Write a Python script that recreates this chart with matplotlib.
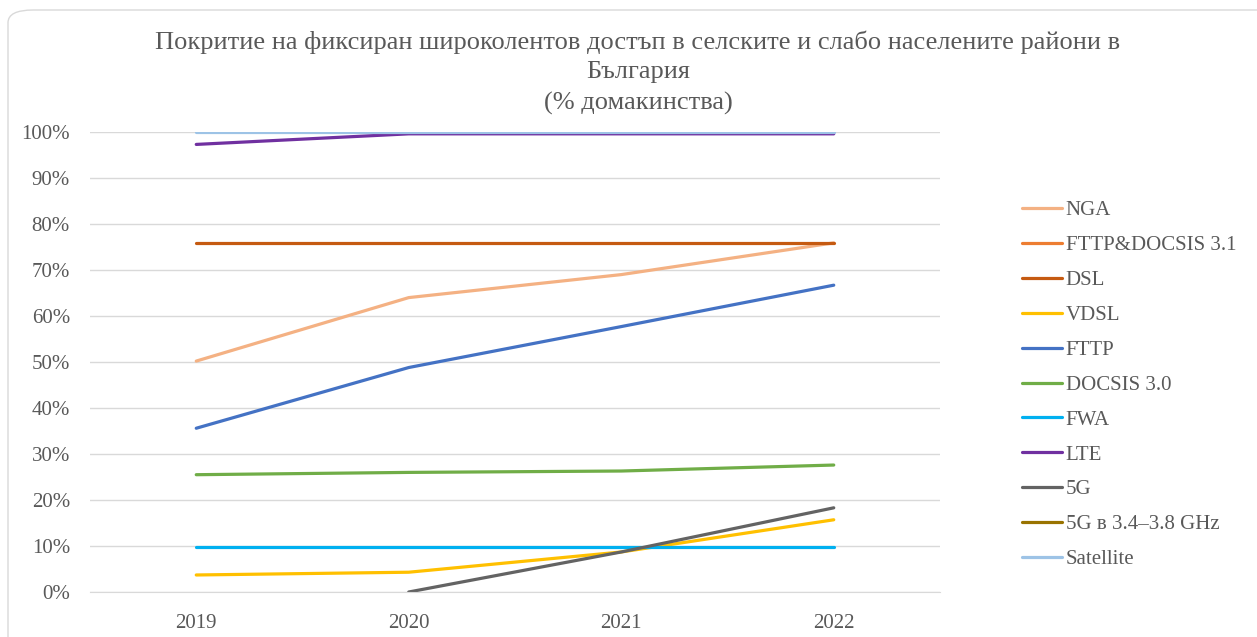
import matplotlib
matplotlib.use("Agg")
import matplotlib.pyplot as plt
import numpy as np
from matplotlib.patches import FancyBboxPatch
from matplotlib.ticker import PercentFormatter

years = ["2019", "2020", "2021", "2022"]
nga = [50.2, 64.0, 69.0, 75.9]
fttp_docsis31 = [None, None, None, None]
dsl = [75.9, 75.9, 75.9, 75.9]
vdsl = [3.7, 4.3, 8.7, 15.7]
fttp = [35.6, 48.8, 57.7, 66.7]
docsis30 = [25.5, 26.0, 26.3, 27.6]
fwa = [9.7, 9.7, 9.7, 9.7]
lte = [97.3, 99.6, 99.6, 99.6]
g5 = [None, 0.0, 8.7, 18.3]
g5_band = [None, None, None, None]
satellite = [100.0, 100.0, 100.0, 100.0]

series_names = ["NGA", "FTTP&DOCSIS 3.1", "DSL", "VDSL", "FTTP", "DOCSIS 3.0",
                "FWA", "LTE", "5G", "5G в 3.4–3.8 GHz", "Satellite"]
series_values = [nga, fttp_docsis31, dsl, vdsl, fttp, docsis30, fwa, lte, g5, g5_band, satellite]
colors = ["#F4B183", "#ED7D31", "#C55A11", "#FFC000", "#4472C4", "#70AD47",
          "#00B0F0", "#7030A0", "#636363", "#997300", "#9DC3E6"]

plt.rcParams['font.family'] = ['Liberation Serif', 'DejaVu Serif']
txt = "#595959"

fig = plt.figure(figsize=(12.57, 6.37), dpi=100)
border = FancyBboxPatch((8/1257, -0.05), 1.2, 1 - 10/637 + 0.05,
                        boxstyle="round,pad=0,rounding_size=0.02",
                        transform=fig.transFigure, facecolor="white",
                        edgecolor="#D9D9D9", linewidth=1.0, zorder=-10)
fig.patches.append(border)

ax = fig.add_axes([90/1257, 1 - 592/637, 850/1257, 460/637])
x = np.arange(len(years))
for name, vals, c in zip(series_names, series_values, colors):
    v = np.array([np.nan if a is None else a for a in vals], dtype=float)
    ax.plot(x, v, color=c, lw=2.3, label=name, solid_capstyle="round")

ax.set_xlim(-0.5, 3.5)
ax.set_ylim(0, 100)
ax.set_yticks(np.arange(0, 101, 10))
ax.yaxis.set_major_formatter(PercentFormatter(decimals=0))
ax.set_xticks(x)
ax.set_xticklabels(years)
ax.grid(axis="y", color="#D9D9D9", lw=1)
ax.set_axisbelow(True)
for s in ["top", "right", "left"]:
    ax.spines[s].set_visible(False)
ax.spines["bottom"].set_color("#D9D9D9")
ax.tick_params(axis="both", length=0, labelsize=15, colors=txt)
ax.tick_params(axis="y", pad=14.4)
ax.tick_params(axis="x", pad=15.5)
ax.patch.set_alpha(0)

for yy, s in [(42, "Покритие на фиксиран широколентов достъп в селските и слабо населените райони в"),
              (72, "България"), (103, "(% домакинства)")]:
    fig.text(638/1257, 1 - yy/637, s, ha="center", va="center", fontsize=19, color=txt)

leg = fig.legend(loc="upper left", bbox_to_anchor=(1003/1257, 1 - 182/637), frameon=False,
                 fontsize=15, labelspacing=0.735, handlelength=1.95, handletextpad=0.15,
                 labelcolor=txt)

fig.savefig("out.png", dpi=100)
